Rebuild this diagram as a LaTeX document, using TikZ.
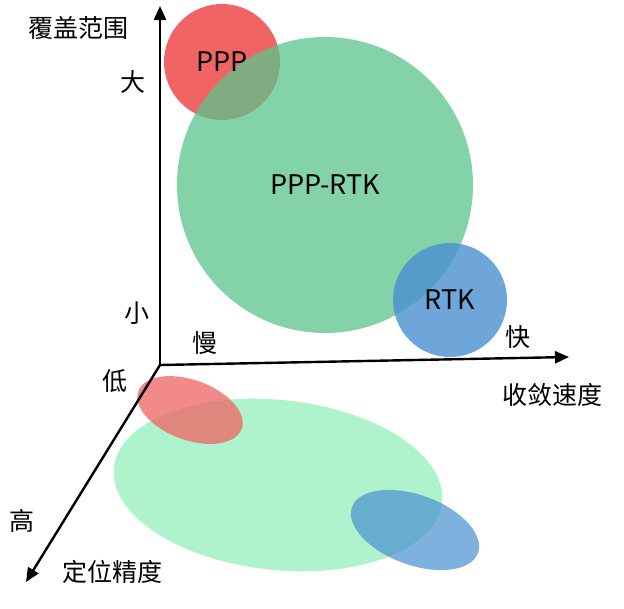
\documentclass[tikz,border=0pt]{standalone}
\usepackage{fontspec}
\setmainfont{Noto Sans CJK SC}
\usetikzlibrary{arrows.meta}
\definecolor{cred}{HTML}{F06464}
\definecolor{cgreen}{HTML}{5CC48C}
\definecolor{cblue}{HTML}{4A90D0}
\definecolor{lgreen}{HTML}{A6F2C6}
\begin{document}
\begin{tikzpicture}[x=1pt,y=-1pt,
  axis/.style={line width=2.4pt,-{Triangle[length=14pt,width=12pt]}},
  lbl/.style={font=\fontsize{25}{27}\selectfont},
  big/.style={font=\fontsize{27}{29}\selectfont}]
\useasboundingbox (0,0) rectangle (624,608);
\fill[fill=white] (0,0) rectangle (624,608);
% bottom ellipses
\fill[lgreen,fill opacity=0.9] (278,485) ellipse[x radius=165,y radius=85,rotate=-6];
\fill[cred,fill opacity=0.75] (190,410) ellipse[x radius=55,y radius=30,rotate=-20];
\fill[cblue,fill opacity=0.7] (415,530) ellipse[x radius=67,y radius=35,rotate=-20];
% circles
\fill[cred] (222,62) circle (58);
\fill[cgreen,fill opacity=0.75] (325,185) circle (148);
\fill[cblue,fill opacity=0.8] (450,300) circle (57);
\node[big] (ppp) at (222,62) {PPP};
\node[big] (ppprtk) at (325,185) {PPP-RTK};
\node[big] (rtk) at (450,300) {RTK};
% axes
\coordinate (o) at (160,365);
\coordinate (yt) at (160,6);
\coordinate (xt) at (569,357);
\coordinate (zt) at (26,582);
\draw[axis] (o) -- (yt);
\draw[axis] (o) -- (xt);
\draw[axis] (o) -- (zt);
\node[lbl] (t1) at (78,28) {覆盖范围};
\node[lbl] (t2) at (133,82) {大};
\node[lbl] (t3) at (137,313) {小};
\node[lbl] (t4) at (205,343) {慢};
\node[lbl] (t5) at (518,337) {快};
\node[lbl] (t6) at (552,395) {收敛速度};
\node[lbl] (t7) at (115,381) {低};
\node[lbl] (t8) at (22,521) {高};
\node[lbl] (t9) at (112,572) {定位精度};
\end{tikzpicture}
\end{document}
